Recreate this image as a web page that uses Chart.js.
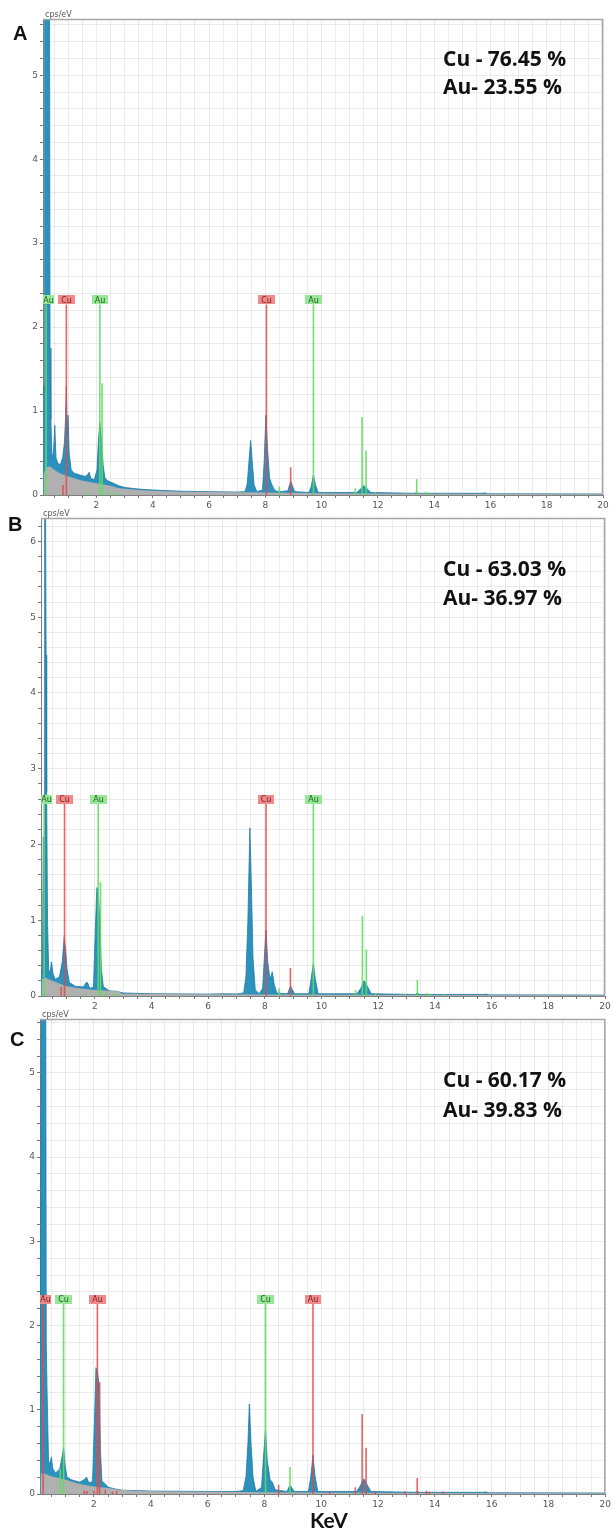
<!DOCTYPE html>
<html><head><meta charset="utf-8">
<script src="https://cdn.jsdelivr.net/npm/chart.js@4.4.1/dist/chart.umd.min.js"></script>
<style>
html,body{margin:0;padding:0;background:#fff;}
body{width:613px;height:1535px;position:relative;overflow:hidden;}
canvas{position:absolute;left:0;}
.letter{position:absolute;font-family:'Liberation Sans',Arial,sans-serif;font-weight:bold;font-size:20px;line-height:20px;color:#111;}
.comp{position:absolute;font-family:'Open Sans',sans-serif;font-weight:bold;font-size:21px;line-height:21px;color:#111;white-space:nowrap;}
.axis{position:absolute;font-family:Lato,sans-serif;font-weight:bold;font-size:21px;line-height:21px;color:#111;}
</style></head><body>
<canvas id="cA" width="613" height="515" style="top:0px"></canvas>
<canvas id="cB" width="613" height="510" style="top:505px"></canvas>
<canvas id="cC" width="613" height="510" style="top:1005px"></canvas>
<div class="letter" style="left:13px;top:23px">A</div>
<div class="letter" style="left:8px;top:514px">B</div>
<div class="letter" style="left:10px;top:1029px">C</div>
<div class="comp" style="left:443px;top:48px">Cu - 76.45 %</div>
<div class="comp" style="left:443px;top:76px">Au- 23.55 %</div>
<div class="comp" style="left:443px;top:558px">Cu - 63.03 %</div>
<div class="comp" style="left:443px;top:587px">Au- 36.97 %</div>
<div class="comp" style="left:443px;top:1069px">Cu - 60.17 %</div>
<div class="comp" style="left:443px;top:1099px">Au- 39.83 %</div>
<div class="axis" style="left:310px;top:1509px">KeV</div>
<script>
// ---------- data (keV, cps/eV) ----------
const spectrumA = [[0.10,1.2],[0.14,1.3],[0.16,6.5],[0.33,6.5],[0.35,1.75],[0.38,0.9],[0.42,0.45],[0.47,0.5],[0.52,0.83],[0.56,0.45],[0.62,0.38],[0.72,0.36],[0.80,0.45],[0.86,0.62],[0.90,0.9],[0.93,1.3],[0.96,0.7],[0.99,0.95],[1.03,0.5],[1.10,0.3],[1.20,0.26],[1.40,0.24],[1.60,0.22],[1.68,0.24],[1.74,0.27],[1.80,0.2],[1.92,0.18],[2.02,0.3],[2.07,0.65],[2.12,0.87],[2.18,0.65],[2.24,0.35],[2.30,0.2],[2.40,0.17],[2.60,0.14],[2.80,0.11],[3.00,0.09],[3.50,0.07],[4.00,0.06],[5.00,0.045],[6.00,0.04],[7.00,0.035],[7.28,0.04],[7.36,0.14],[7.43,0.45],[7.48,0.65],[7.53,0.42],[7.60,0.12],[7.70,0.04],[7.90,0.06],[7.96,0.4],[8.02,0.95],[8.08,0.55],[8.15,0.2],[8.26,0.1],[8.35,0.05],[8.50,0.04],[8.80,0.05],[8.86,0.12],[8.91,0.16],[8.97,0.1],[9.05,0.04],[9.55,0.03],[9.63,0.1],[9.71,0.24],[9.78,0.12],[9.88,0.03],[11.25,0.03],[11.38,0.07],[11.50,0.11],[11.60,0.08],[11.75,0.03],[13.30,0.02],[13.38,0.03],[13.45,0.02],[15.70,0.02],[15.80,0.025],[15.90,0.015],[20.00,0.012]];
const backgroundA = [[0.10,0],[0.13,0.25],[0.20,0.33],[0.35,0.34],[0.50,0.3],[0.70,0.26],[1.00,0.22],[1.50,0.17],[2.00,0.14],[2.50,0.11],[2.80,0.08],[3.50,0.06],[4.00,0.05],[5.00,0.04],[6.00,0.035],[8.00,0.03],[10.00,0.02],[14.00,0.015],[20.00,0.01]];
const cuLinesA = [[0.93,2.27],[8.04,2.27],[0.81,0.12],[8.90,0.33]];
const auLinesA = [[0.21,2.27],[2.12,2.27],[9.71,2.27],[2.20,1.33],[1.66,0.03],[2.40,0.05],[2.65,0.03],[2.80,0.03],[8.50,0.10],[10.30,0.02],[11.20,0.08],[11.44,0.93],[11.58,0.53],[11.90,0.03],[12.95,0.03],[13.38,0.19],[13.70,0.04],[13.80,0.03],[14.30,0.03]];
const cuLabelsA = [0.93, 8.04];
const auLabelsA = [0.21, 2.12, 9.71];

const spectrumB = [[0.10,0.3],[0.15,0.35],[0.18,2.1],[0.21,2.0],[0.23,6.5],[0.26,6.5],[0.28,4.5],[0.30,2.7],[0.33,1.0],[0.37,0.35],[0.42,0.3],[0.47,0.45],[0.52,0.3],[0.60,0.22],[0.75,0.25],[0.85,0.45],[0.92,0.78],[0.97,0.6],[1.02,0.35],[1.10,0.18],[1.30,0.13],[1.60,0.12],[1.68,0.17],[1.74,0.18],[1.82,0.1],[1.95,0.12],[2.02,0.9],[2.07,1.43],[2.12,1.42],[2.17,1.0],[2.23,0.35],[2.30,0.12],[2.40,0.1],[2.50,0.07],[2.80,0.06],[3.00,0.04],[4.00,0.03],[6.00,0.025],[6.50,0.03],[7.00,0.028],[7.25,0.04],[7.33,0.25],[7.40,1.0],[7.47,2.22],[7.52,1.5],[7.58,0.5],[7.66,0.08],[7.80,0.03],[7.92,0.1],[7.98,0.5],[8.04,0.87],[8.10,0.45],[8.18,0.22],[8.26,0.32],[8.33,0.15],[8.42,0.04],[8.80,0.03],[8.86,0.09],[8.91,0.13],[8.97,0.08],[9.05,0.03],[9.55,0.03],[9.62,0.2],[9.71,0.43],[9.78,0.22],[9.88,0.03],[11.25,0.03],[11.38,0.1],[11.50,0.2],[11.60,0.14],[11.75,0.03],[13.30,0.02],[13.38,0.04],[13.46,0.02],[15.70,0.02],[15.80,0.025],[15.90,0.015],[20.00,0.012]];
const backgroundB = [[0.10,0],[0.13,0.22],[0.25,0.24],[0.50,0.2],[1.00,0.13],[1.50,0.1],[2.00,0.08],[2.50,0.07],[2.85,0.06],[2.95,0.03],[4.00,0.025],[8.00,0.02],[14.00,0.012],[20.00,0.01]];
const cuLinesB = [[0.93,2.54],[8.04,2.54],[0.81,0.12],[8.90,0.37]];
const auLinesB = [[0.21,2.54],[2.12,2.54],[9.71,2.54],[2.20,1.5],[1.66,0.03],[2.40,0.05],[2.65,0.03],[2.80,0.04],[8.50,0.10],[10.30,0.02],[11.20,0.08],[11.44,1.06],[11.58,0.61],[11.90,0.03],[12.95,0.03],[13.38,0.21],[13.70,0.04],[13.80,0.03],[14.30,0.03]];
const cuLabelsB = [0.93, 8.04];
const auLabelsB = [0.21, 2.12, 9.71];

const spectrumC = [[0.10,0.5],[0.13,0.5],[0.15,6.5],[0.30,6.5],[0.32,1.8],[0.35,1.2],[0.40,0.4],[0.45,0.35],[0.50,0.44],[0.55,0.3],[0.65,0.25],[0.80,0.3],[0.88,0.45],[0.93,0.55],[0.98,0.35],[1.05,0.2],[1.20,0.17],[1.50,0.14],[1.65,0.17],[1.74,0.2],[1.82,0.13],[1.95,0.15],[2.02,0.9],[2.07,1.5],[2.12,1.45],[2.18,1.3],[2.23,0.5],[2.28,0.15],[2.40,0.12],[2.50,0.08],[2.75,0.06],[3.00,0.045],[4.00,0.035],[6.00,0.03],[7.00,0.03],[7.25,0.04],[7.35,0.2],[7.42,0.6],[7.47,1.07],[7.53,0.6],[7.60,0.2],[7.70,0.03],[7.90,0.08],[7.97,0.45],[8.04,0.76],[8.10,0.4],[8.20,0.17],[8.28,0.14],[8.38,0.05],[8.80,0.03],[8.86,0.08],[8.91,0.1],[8.97,0.07],[9.05,0.03],[9.55,0.03],[9.63,0.2],[9.71,0.46],[9.78,0.22],[9.88,0.03],[11.25,0.03],[11.38,0.1],[11.50,0.18],[11.60,0.12],[11.75,0.03],[13.30,0.02],[13.38,0.03],[13.46,0.02],[15.70,0.02],[15.80,0.025],[15.90,0.015],[20.00,0.012]];
const backgroundC = [[0.10,0],[0.13,0.24],[0.20,0.25],[0.50,0.21],[1.00,0.17],[1.50,0.12],[2.00,0.09],[2.50,0.07],[2.90,0.05],[3.50,0.035],[5.00,0.03],[8.00,0.02],[14.00,0.012],[20.00,0.01]];
const cuLinesC = [[0.93,2.26],[8.04,2.26],[0.81,0.3],[8.90,0.32]];
const auLinesC = [[0.21,2.26],[2.12,2.26],[9.71,2.26],[2.20,1.33],[1.66,0.04],[1.75,0.04],[2.00,0.04],[2.40,0.05],[2.65,0.03],[2.80,0.04],[8.50,0.11],[10.30,0.03],[11.20,0.08],[11.44,0.95],[11.58,0.55],[11.90,0.03],[12.95,0.03],[13.38,0.19],[13.70,0.04],[13.80,0.03],[14.30,0.03]];
const cuLabelsC = [0.93, 8.04];
const auLabelsC = [0.21, 2.12, 9.71];

const yMaxA = 5.67, yMaxB = 6.31, yMaxC = 5.64;
const xMin = 0.1, xMax = 20;

// ---------- styles ----------
const RED = 'rgba(228,72,72,0.85)', GREEN = 'rgba(95,222,95,0.9)';
const RED_BOX = 'rgb(241,138,138)', GREEN_BOX = 'rgb(150,232,150)';

const markerPlugin = {
  id: 'markers',
  afterDatasetsDraw(chart, args, opts) {
    const {ctx, chartArea: a, scales} = chart;
    ctx.save();
    ctx.strokeStyle = 'rgb(165,165,165)';
    ctx.lineWidth = 1.5;
    ctx.beginPath();
    ctx.moveTo(a.left, a.top + 0.5); ctx.lineTo(a.right - 0.5, a.top + 0.5); ctx.lineTo(a.right - 0.5, a.bottom);
    ctx.stroke();
    ctx.font = '8px "DejaVu Sans"';
    ctx.textAlign = 'center'; ctx.textBaseline = 'middle';
    opts.boxes.forEach(b => {
      const x = scales.x.getPixelForValue(b.keV);
      const y = scales.y.getPixelForValue(opts.top);
      const w = ctx.measureText(b.text).width + 6, h = 9;
      let l = Math.round(x - w / 2), r = Math.round(x + w / 2);
      if (l < a.left) l = Math.round(a.left);
      ctx.fillStyle = b.fill;
      ctx.fillRect(l, Math.round(y - h), r - l, h);
      ctx.fillStyle = b.ink;
      ctx.fillText(b.text, (l + r) / 2, y - h / 2 + 0.5);
    });
    ctx.font = '8px "DejaVu Sans"';
    ctx.fillStyle = '#555';
    ctx.textAlign = 'left'; ctx.textBaseline = 'alphabetic';
    ctx.fillText('cps/eV', a.left + 2, a.top - 2);
    ctx.restore();
  }
};

function linePoints(list) {
  const pts = [];
  list.forEach(([k, h]) => { pts.push({x: k, y: 0}, {x: k, y: h}, {x: k, y: null}); });
  return pts;
}

function makePanel(id, p) {
  const boxes = [];
  p.cuLabels.forEach(k => boxes.push({keV: k, text: 'Cu', fill: p.cuRed ? RED_BOX : GREEN_BOX, ink: p.cuRed ? '#6b1d1d' : '#1f5a1f'}));
  p.auLabels.forEach(k => boxes.push({keV: k, text: 'Au', fill: p.cuRed ? GREEN_BOX : RED_BOX, ink: p.cuRed ? '#1f5a1f' : '#6b1d1d'}));
  new Chart(document.getElementById(id), {
    type: 'line',
    data: {datasets: [
      {data: linePoints(p.cuLines), borderColor: p.cuRed ? RED : GREEN, borderWidth: 1.6, pointRadius: 0, fill: false, spanGaps: false, order: 0},
      {data: linePoints(p.auLines), borderColor: p.cuRed ? GREEN : RED, borderWidth: 1.6, pointRadius: 0, fill: false, spanGaps: false, order: 0},
      {data: p.bg.map(([x, y]) => ({x, y})), borderWidth: 0, borderColor: 'rgba(0,0,0,0)', backgroundColor: 'rgb(176,176,176)', fill: 'origin', pointRadius: 0, order: 1},
      {data: p.spec.map(([x, y]) => ({x, y})), borderWidth: 0.8, borderColor: 'rgb(30,122,166)', backgroundColor: 'rgb(44,145,188)', fill: 'origin', pointRadius: 0, order: 2}
    ]},
    options: {
      responsive: false, animation: false, devicePixelRatio: 1,
      layout: {padding: {top: p.padTop, right: p.padRight, left: 0, bottom: 0}},
      plugins: {legend: {display: false}, tooltip: {enabled: false}, markers: {boxes, top: p.markTop}},
      scales: {
        x: {
          type: 'linear', min: xMin, max: xMax,
          afterBuildTicks(s) { const t = []; for (let i = 1; i <= 40; i++) t.push({value: i * 0.5}); s.ticks = t; },
          afterFit(s) { s.height = p.xH; },
          grid: {color: 'rgba(0,0,0,0.075)', tickColor: '#777', tickLength: 3},
          border: {color: '#808080', width: 1},
          ticks: {autoSkip: false, maxRotation: 0, padding: 2, color: '#555', font: {family: 'DejaVu Sans', size: 9},
            callback(v) { return Math.abs(v - 2 * Math.round(v / 2)) < 1e-6 ? String(Math.round(v)) : ''; }}
        },
        y: {
          type: 'linear', min: 0, max: p.yMax,
          afterBuildTicks(s) { const t = []; for (let i = 0; i * 0.2 <= p.yMax + 1e-9; i++) t.push({value: Math.round(i * 2) / 10}); s.ticks = t; },
          afterFit(s) { s.width = p.yW; },
          grid: {color: 'rgba(0,0,0,0.075)', tickColor: '#777', tickLength: 3},
          border: {color: '#808080', width: 1},
          ticks: {autoSkip: false, padding: 2, color: '#555', font: {family: 'DejaVu Sans', size: 9},
            callback(v) { return Math.abs(v - Math.round(v)) < 1e-6 ? String(Math.round(v)) : ''; }}
        }
      }
    },
    plugins: [markerPlugin]
  });
}

makePanel('cA', {spec: spectrumA, bg: backgroundA, cuLines: cuLinesA, auLines: auLinesA, cuLabels: cuLabelsA, auLabels: auLabelsA, cuRed: true, yMax: yMaxA, markTop: 2.27, padTop: 19, padRight: 10, yW: 43, xH: 20});
makePanel('cB', {spec: spectrumB, bg: backgroundB, cuLines: cuLinesB, auLines: auLinesB, cuLabels: cuLabelsB, auLabels: auLabelsB, cuRed: true, yMax: yMaxB, markTop: 2.54, padTop: 13, padRight: 8, yW: 41, xH: 19});
makePanel('cC', {spec: spectrumC, bg: backgroundC, cuLines: cuLinesC, auLines: auLinesC, cuLabels: cuLabelsC, auLabels: auLabelsC, cuRed: false, yMax: yMaxC, markTop: 2.26, padTop: 14, padRight: 7, yW: 40, xH: 21});
</script>
</body></html>
